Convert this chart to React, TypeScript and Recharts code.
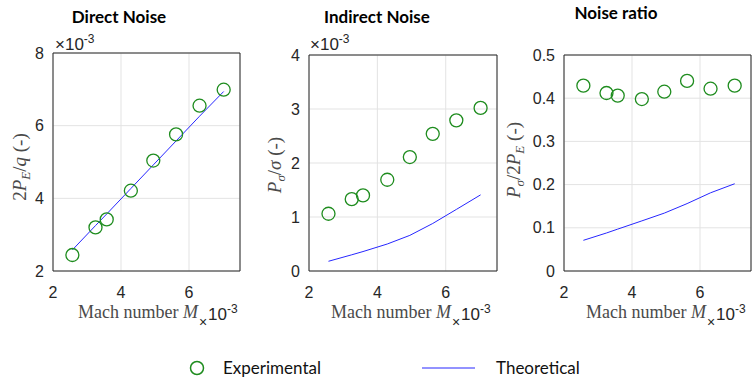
import React from 'react'
import {
  ComposedChart,
  Scatter,
  Line,
  XAxis,
  YAxis,
  CartesianGrid,
  ReferenceArea,
} from 'recharts'

const machNumber = [2.57, 3.25, 3.58, 4.29, 4.95, 5.62, 6.31, 7.02]
const directExp = [2.44, 3.2, 3.42, 4.21, 5.04, 5.76, 6.55, 6.99]
const directTheory = [2.58, 3.25, 3.57, 4.27, 4.92, 5.58, 6.26, 6.94]
const indirectExp = [1.06, 1.33, 1.4, 1.69, 2.11, 2.54, 2.79, 3.02]
const indirectTheory = [0.18, 0.3, 0.36, 0.5, 0.66, 0.88, 1.14, 1.41]
const ratioExp = [0.429, 0.412, 0.406, 0.398, 0.415, 0.44, 0.422, 0.429]
const ratioTheory = [0.071, 0.088, 0.097, 0.116, 0.134, 0.156, 0.181, 0.202]

const xTicks = [2, 4, 6]
const directTicks = [2, 4, 6, 8]
const indirectTicks = [0, 1, 2, 3, 4]
const ratioTicks = [0, 0.1, 0.2, 0.3, 0.4, 0.5]

const GREEN = '#1e8c1e'
const BLUE = '#2727ff'
const INK = '#262626'
const LABEL = '#4a4a4a'
const SANS = '"Liberation Sans", Arial, sans-serif'
const SERIF = '"Liberation Serif", "Times New Roman", serif'
const TITLE = 'Lato, "Noto Sans", sans-serif'

const toRows = (ys: number[]) => machNumber.map((x, i) => ({ x, y: ys[i] }))

const ring = (p: any) => (
  <circle cx={p.cx} cy={p.cy} r={6.5} fill="none" stroke={GREEN} strokeWidth={1.3} />
)

interface PanelProps {
  left: number
  width: number
  marginLeft: number
  marginRight: number
  top: number
  yDomain: [number, number]
  yTicks: number[]
  exp: number[]
  theory: number[]
  fmt?: (v: number) => string
}

function Panel({ left, width, marginLeft, marginRight, top, yDomain, yTicks, exp, theory, fmt }: PanelProps) {
  const tick = { fill: INK, fontSize: 16, fontFamily: SANS }
  return (
    <div style={{ position: 'absolute', left, top: 0 }}>
      <ComposedChart
        width={width}
        height={340}
        margin={{ top, right: marginRight, bottom: 39, left: marginLeft }}
      >
        <CartesianGrid stroke="#e3e3e3" />
        <XAxis
          dataKey="x"
          type="number"
          domain={[2, 7.5]}
          ticks={xTicks}
          allowDataOverflow
          axisLine={false}
          tickLine={false}
          tickSize={0}
          tickMargin={16}
          height={30}
          tick={tick}
        />
        <YAxis
          dataKey="y"
          type="number"
          domain={yDomain}
          ticks={yTicks}
          allowDataOverflow
          axisLine={false}
          tickLine={false}
          tickSize={0}
          tickMargin={9}
          width={50}
          tick={tick}
          tickFormatter={fmt}
        />
        <ReferenceArea
          x1={2}
          x2={7.5}
          y1={yDomain[0]}
          y2={yDomain[1]}
          fill="none"
          fillOpacity={0}
          stroke={INK}
          strokeWidth={1}
        />
        <Line
          data={toRows(theory)}
          dataKey="y"
          type="linear"
          stroke={BLUE}
          strokeWidth={1}
          dot={false}
          isAnimationActive={false}
        />
        <Scatter data={toRows(exp)} dataKey="y" shape={ring} isAnimationActive={false} />
      </ComposedChart>
    </div>
  )
}

function Exponent({ x, y }: { x: number; y: number }) {
  return (
    <text x={x} y={y} fontFamily={SANS} fontSize={17} fill={INK}>
      ×10<tspan fontSize={12} dy={-7}>-3</tspan>
    </text>
  )
}

// MATLAB puts the multiplier under the end of the x label
function MachLabel({ x }: { x: number }) {
  return (
    <g>
      <text x={x - 1} y={318} textAnchor="end" fontFamily={SERIF} fontSize={18} fill={LABEL}>
        Mach number <tspan fontStyle="italic">M</tspan>
      </text>
      <text x={x} y={327} fontFamily={SANS} fontSize={14} fill={INK}>×</text>
      <text x={x + 9} y={320} fontFamily={SANS} fontSize={17} fill={INK}>
        10<tspan fontSize={12} dy={-7}>-3</tspan>
      </text>
    </g>
  )
}

export default function App() {
  return (
    <div style={{ position: 'absolute', left: 0, top: 0, width: 752, height: 382, background: '#fff' }}>
      <Panel
        left={0}
        width={245}
        marginLeft={3}
        marginRight={5}
        top={53}
        yDomain={[2, 8]}
        yTicks={directTicks}
        exp={directExp}
        theory={directTheory}
      />
      <Panel
        left={255}
        width={245}
        marginLeft={4}
        marginRight={3}
        top={55}
        yDomain={[0, 4]}
        yTicks={indirectTicks}
        exp={indirectExp}
        theory={indirectTheory}
      />
      <Panel
        left={510}
        width={242}
        marginLeft={4}
        marginRight={1}
        top={55}
        yDomain={[0, 0.5]}
        yTicks={ratioTicks}
        exp={ratioExp}
        theory={ratioTheory}
        fmt={(v) => String(v)}
      />
      <svg
        width={752}
        height={382}
        style={{ position: 'absolute', left: 0, top: 0, pointerEvents: 'none' }}
      >
        <g fontFamily={TITLE} fontWeight="bold" fontSize={17} fill="#000" textAnchor="middle">
          <text x={119} y={23}>Direct Noise</text>
          <text x={377} y={23}>Indirect Noise</text>
          <text x={616} y={19}>Noise ratio</text>
        </g>

        <Exponent x={55} y={50} />
        <Exponent x={310} y={50} />

        <MachLabel x={199} />
        <MachLabel x={452} />
        <MachLabel x={707} />

        <g fontFamily={SERIF} fontSize={19} fill={LABEL}>
          <text x={26} y={167} transform="rotate(-90 26 167)" textAnchor="middle">
            2<tspan fontStyle="italic">P</tspan>
            <tspan fontStyle="italic" fontSize={13} dy={4}>E</tspan>
            <tspan dy={-4}>/</tspan>
            <tspan fontStyle="italic">q</tspan> (-)
          </text>
          <text x={281} y={165} transform="rotate(-90 281 165)" textAnchor="middle">
            <tspan fontStyle="italic">P</tspan>
            <tspan fontStyle="italic" fontSize={13} dy={4}>σ</tspan>
            <tspan dy={-4}>/</tspan>
            <tspan fontStyle="italic">σ</tspan> (-)
          </text>
          <text x={520} y={160} transform="rotate(-90 520 160)" textAnchor="middle">
            <tspan fontStyle="italic">P</tspan>
            <tspan fontStyle="italic" fontSize={13} dy={4}>σ</tspan>
            <tspan dy={-4}>/2</tspan>
            <tspan fontStyle="italic">P</tspan>
            <tspan fontStyle="italic" fontSize={13} dy={4}>E</tspan>
            <tspan dy={-4}> (-)</tspan>
          </text>
        </g>

        <circle cx={197} cy={368} r={6.5} fill="none" stroke={GREEN} strokeWidth={1.5} />
        <text x={223} y={374} fontFamily={TITLE} fontSize={17} fill="#111">Experimental</text>
        <line x1={422} y1={368} x2={475} y2={368} stroke={BLUE} strokeWidth={1} />
        <text x={496} y={374} fontFamily={TITLE} fontSize={17} fill="#111">Theoretical</text>
      </svg>
    </div>
  )
}
